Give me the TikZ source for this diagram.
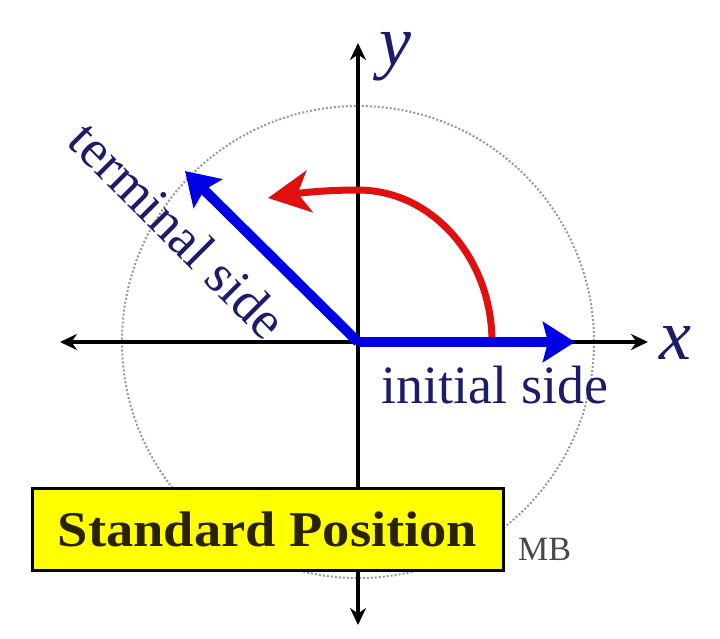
\documentclass[tikz,border=0pt]{standalone}
\usepackage{fontspec}
\setmainfont{Liberation Serif}
\usetikzlibrary{arrows.meta}
\definecolor{navy}{HTML}{1C1C6A}
\definecolor{sideblue}{HTML}{0000E6}
\definecolor{arcred}{HTML}{E01010}
\definecolor{boxyellow}{HTML}{FFFF00}
\definecolor{boxtext}{HTML}{2B2200}
\definecolor{mbgray}{HTML}{484848}
\tikzset{
  axisline/.style={line width=4pt,black,{Stealth[length=17pt,width=16pt]}-{Stealth[length=17pt,width=16pt]}},
  guidecircle/.style={gray!80,dotted,line width=2pt},
  sidearrow/.style={line width=10pt,sideblue,-{Stealth[length=32pt,width=40pt,inset=5pt]}},
  turnarrow/.style={line width=7pt,arcred,-{Stealth[length=42pt,width=42pt,inset=12pt]}},
  sidelabel/.style={navy,inner sep=0pt,font=\fontsize{54}{60}\selectfont},
  axislabel/.style={navy,inner sep=0pt,font=\fontsize{72}{80}\selectfont\itshape},
  titlebox/.style={draw=black,line width=3pt,fill=boxyellow,minimum width=471pt,minimum height=82pt,inner sep=0pt},
}
\begin{document}
\begin{tikzpicture}[x=1pt,y=-1pt]
\useasboundingbox (0,0) rectangle (720,638);
\fill[white] (0,0) rectangle (720,638);
\coordinate (O) at (358,342);
\coordinate (xL) at (60,342);
\coordinate (xR) at (648,342);
\coordinate (yT) at (358,43);
\coordinate (yB) at (358,625);
\coordinate (iniTip) at (575,342);
\coordinate (terTip) at (185,171);
\coordinate (arcStart) at (492,342);
\coordinate (arcTop) at (358,190);
\coordinate (arcTip) at (268,198);
% guide circle
\draw[guidecircle] (O) circle[radius=236];
% axes
\draw[axisline] (xL) -- (xR);
\draw[axisline] (yB) -- (yT);
% rotation arrow
\draw[turnarrow] (arcStart) .. controls (492,258) and (432,190) .. (arcTop)
  .. controls (325,190) and (300,193) .. (arcTip);
% sides
\draw[sidearrow] (O) -- (iniTip);
\draw[sidearrow] (O) -- (terTip);
% labels
\node[axislabel] (ylab) at (395,57) {y};
\node[axislabel] (xlab) at (675,343) {x};
\node[sidelabel,anchor=base] (inilab) at (495,403) {initial side};
\node[sidelabel,rotate=-45] (terlab) at (178,230) {terminal side};
% title box
\node[titlebox] (title) at (267.5,529) {};
\node[inner sep=0pt,text=boxtext,font=\fontsize{50}{56}\selectfont\bfseries] (titletext) at (title.center) {\scalebox{1.09}[1]{Standard Position}};
\node[inner sep=0pt,anchor=base west,text=mbgray,font=\fontsize{34}{40}\selectfont] (mb) at (518,560) {MB};
\end{tikzpicture}
\end{document}
